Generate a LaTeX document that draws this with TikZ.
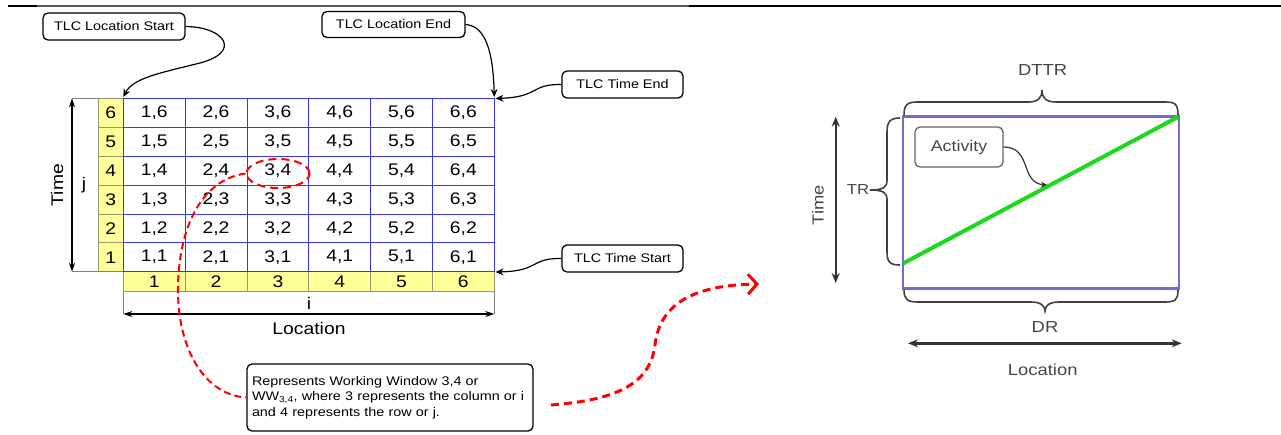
\documentclass[tikz,border=0pt]{standalone}
\usepackage{fontspec}
\setmainfont{Liberation Sans}[FakeStretch=1.15]
\usetikzlibrary{arrows.meta,shapes.geometric}
\definecolor{gridblue}{RGB}{55,55,240}
\definecolor{cellyellow}{RGB}{255,255,153}
\definecolor{yborder}{RGB}{150,150,110}
\definecolor{frameblue}{RGB}{110,110,210}
\definecolor{actgreen}{RGB}{30,215,30}
\definecolor{blurtext}{RGB}{70,70,70}
\begin{document}
\begin{tikzpicture}[x=1pt,y=-1pt,
  cell/.style={draw=gridblue,line width=0.8pt,minimum width=61.83pt,minimum height=28.9pt,inner sep=0pt,font=\fontsize{16.8}{18}\selectfont},
  ycell/.style={draw=yborder,fill=cellyellow,line width=0.8pt,inner sep=0pt,font=\fontsize{16.8}{18}\selectfont},
  callout/.style={draw=black,fill=white,rounded corners=5pt,line width=1.3pt,inner sep=0pt,font=\fontsize{12.5}{15}\selectfont},
  callarrow/.style={draw=black,line width=1.2pt,-{Stealth[length=8pt,width=7pt]}},
  reddash/.style={draw=red,line width=2pt,dash pattern=on 7pt off 4pt},
  axisarrow/.style={draw=black,line width=1.3pt,{Stealth[length=9pt,width=6pt]}-{Stealth[length=9pt,width=6pt]}},
  glabel/.style={font=\fontsize{16.8}{18}\selectfont,inner sep=0pt},
  rlabel/.style={font=\fontsize{16}{18}\selectfont,text=blurtext,inner sep=0pt},
  brace/.style={draw=black!75,line width=1.6pt},
  raxis/.style={draw=black!80,line width=2.4pt,{Stealth[length=10pt,width=8pt]}-{Stealth[length=10pt,width=8pt]}}
]
\useasboundingbox (0,0) rectangle (1281,434);
% top rule
\draw[line width=2pt] (8,5.5) -- (37,5.5);
\draw[black!65,line width=1.3pt] (37,6) -- (689,6);
\draw[line width=2pt] (689,6) -- (1281,6);

% yellow column j and row i
\foreach \r in {1,...,6}
  \node[ycell,minimum width=25pt,minimum height=28.9pt] (j\r) at (110.8,{98.3+(6.5-\r)*28.9}) {\r};
\foreach \c in {1,...,6}
  \node[ycell,minimum width=61.83pt,minimum height=20pt] (i\c) at ({123.3+(\c-0.5)*61.83},281.7) {\c};
% grid cells
\foreach \c in {1,...,6}
  \foreach \r in {1,...,6}
    \node[cell] (c\c\r) at ({123.3+(\c-0.5)*61.83},{98.3+(6.5-\r)*28.9}) {\c,\r};

% gray guide lines
\draw[gray,line width=0.8pt] (72,98.3) -- (98.3,98.3);
\draw[gray,line width=0.8pt] (72,271.7) -- (123.3,271.7);
\draw[gray,line width=0.8pt] (123.3,291.7) -- (123.3,314);
\draw[gray,line width=0.8pt] (494.3,291.7) -- (494.3,314);

% axes left
\coordinate (ttop) at (72,98.3);
\coordinate (tbot) at (72,271.7);
\draw[axisarrow] (ttop) -- (tbot);
\node[glabel,rotate=90] (timeL) at (57,185) {Time};
\node[glabel] (jL) at (84,185) {j};
\coordinate (lleft) at (123.3,314);
\coordinate (lright) at (494.3,314);
\draw[axisarrow] (lleft) -- (lright);
\node[glabel] (iL) at (309,303) {i};
\node[glabel] (locL) at (309,328) {Location};

% callouts
\node[callout,minimum width=142pt,minimum height=27pt] (locstart) at (114,26.5) {TLC Location Start};
\node[callout,minimum width=143pt,minimum height=26pt] (locend) at (393.5,24.5) {TLC Location End};
\node[callout,minimum width=121pt,minimum height=27pt] (timeend) at (622.5,84.5) {TLC Time End};
\node[callout,minimum width=121pt,minimum height=27pt] (timestart) at (622.5,258.5) {TLC Time Start};
\coordinate (tl) at (123.3,97);
\coordinate (tr) at (494.3,97);
\coordinate (trr) at (495.5,98.5);
\coordinate (brr) at (495.5,272);
\draw[callarrow] (locstart.east) .. controls (225,27) and (242,52) .. (200,63) .. controls (160,73) and (133,78) .. (tl);
\draw[callarrow] (locend.east) .. controls (485,26) and (493,50) .. (tr);
\draw[callarrow] (timeend.west) .. controls (530,84) and (540,97) .. (trr);
\draw[callarrow] (timestart.west) .. controls (530,258) and (540,271) .. (brr);

% working window
\node[draw=red,line width=2pt,dash pattern=on 8pt off 5pt,ellipse,minimum width=63pt,minimum height=29pt,inner sep=0pt] (ww) at (278,173.5) {};
\node[callout,minimum width=286pt,minimum height=67pt,align=left,text width=276pt,inner sep=5pt,font=\fontsize{12.5}{15.7}\selectfont] (rep) at (390,397.5)
  {Represents Working Window 3,4 or\\WW\textsubscript{3,4}, where 3 represents the column or i\\and 4 represents the row or j.};
\draw[reddash] (ww.west) .. controls (200,180) and (178,230) .. (178,290) .. controls (178,350) and (205,395) .. (rep.west);
\coordinate (r2s) at (551,405);
\coordinate (r2e) at (759,284);
\draw[draw=red,line width=3pt,dash pattern=on 8pt off 5pt,-{Straight Barb[length=9pt,width=20pt,line width=3pt]}] (r2s) .. controls (615,400) and (650,385) .. (655,345) .. controls (660,300) and (700,285) .. (r2e);

% right diagram
\draw[frameblue,line width=2.2pt] (903.3,116.7) -- (903.3,288.3);
\draw[frameblue,line width=2.2pt] (1179.3,116.7) -- (1179.3,288.3);
\draw[frameblue,line width=3.2pt] (902.3,116.7) -- (1180.3,116.7);
\draw[frameblue,line width=3.2pt] (902.3,288.3) -- (1180.3,288.3);
\draw[actgreen,line width=4pt] (903.3,263.3) -- (1178.5,116.7);

\draw[brace] (904,115) .. controls (904,104) and (908,102) .. (918,102) -- (1028,102) .. controls (1038,102) and (1042,98) .. (1042,90) .. controls (1042,98) and (1046,102) .. (1056,102) -- (1165,102) .. controls (1175,102) and (1178,104) .. (1178,115);
\draw[brace] (904,290) .. controls (904,300) and (908,302) .. (918,302) -- (1031,302) .. controls (1041,302) and (1045,306) .. (1045,311) .. controls (1045,306) and (1049,302) .. (1059,302) -- (1165,302) .. controls (1175,302) and (1178,300) .. (1178,290);
\draw[brace] (900,118) .. controls (890,118) and (887,122) .. (887,132) -- (887,180) .. controls (887,187) and (884,190) .. (870,190) .. controls (884,190) and (887,193) .. (887,200) -- (887,252) .. controls (887,262) and (890,265) .. (900,265);

\node[rlabel] (dttr) at (1042.7,70) {DTTR};
\node[rlabel] (dr) at (1045,326.7) {DR};
\node[rlabel,font=\fontsize{14.5}{16}\selectfont] (trL) at (858,190) {TR};
\node[rlabel,rotate=90] (timeR) at (818,205) {Time};
\node[rlabel] (locR) at (1042.7,370) {Location};
\coordinate (rtt) at (835.7,116.7);
\coordinate (rtb) at (835.7,283);
\draw[raxis] (rtt) -- (rtb);
\coordinate (rll) at (908,343.3);
\coordinate (rlr) at (1181.7,343.3);
\draw[raxis] (rll) -- (rlr);

\node[draw=black!60,fill=white,rounded corners=5pt,line width=1.3pt,minimum width=88pt,minimum height=40pt,inner sep=0pt,font=\fontsize{15.5}{17}\selectfont,text=blurtext] (act) at (959,147) {Activity};
\coordinate (actpt) at (1047,185);
\draw[draw=black!80,line width=1.2pt,-{Stealth[length=6pt,width=6pt]}] (act.east) .. controls (1032,147) and (1020,183) .. (actpt);
\end{tikzpicture}
\end{document}
